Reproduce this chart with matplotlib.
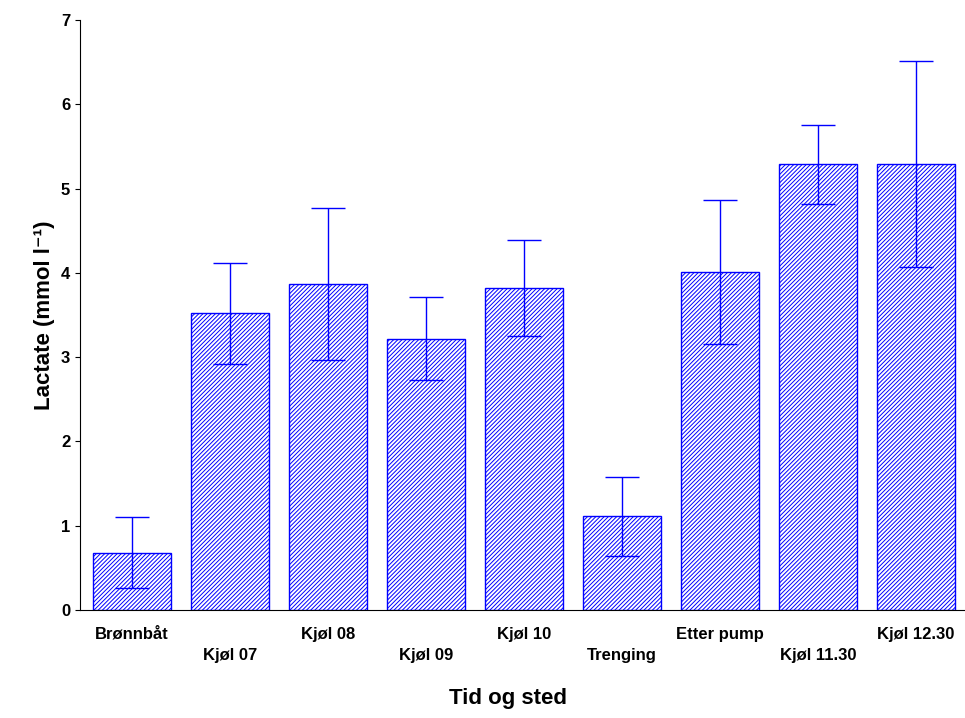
import matplotlib
matplotlib.use("Agg")
from matplotlib import pyplot as plt
import numpy as np

labels = ["Brønnbåt", "Kjøl 07", "Kjøl 08", "Kjøl 09", "Kjøl 10",
          "Trenging", "Etter pump", "Kjøl 11.30", "Kjøl 12.30"]
means = [0.68, 3.52, 3.87, 3.22, 3.82, 1.11, 4.01, 5.29, 5.29]
errs = [0.42, 0.60, 0.90, 0.49, 0.57, 0.47, 0.85, 0.47, 1.22]

plt.rcParams['font.family'] = ['Liberation Sans', 'DejaVu Sans']
plt.rcParams['hatch.color'] = 'blue'
plt.rcParams['hatch.linewidth'] = 0.7

fig = plt.figure(figsize=(9.65, 7.18), dpi=100)
ax = fig.add_axes([80/965, 108/718, 885/965, 590/718])
x = np.arange(len(labels))
ax.bar(x, means, width=0.8, color='white', edgecolor='blue', hatch='////////', linewidth=1)
ax.errorbar(x, means, yerr=errs, fmt='none', ecolor='blue', elinewidth=1, capsize=12, capthick=1)

ax.set_xlim(-0.53, 8.5)
ax.set_ylim(0, 7)
ax.spines['top'].set_visible(False)
ax.spines['right'].set_visible(False)
ax.tick_params(direction='out', labelsize=12)
for t in ax.get_yticklabels():
    t.set_fontweight('bold')
ax.set_xticks(x)
ax.set_xticklabels([])
ax.tick_params(axis='x', length=0)
for i, lab in enumerate(labels):
    yoff = -0.2 if i % 2 == 0 else -0.45
    ax.text(i, yoff, lab, ha='center', va='top', fontsize=12, fontweight='bold')
ax.set_ylabel('Lactate (mmol l⁻¹)', fontsize=16, fontweight='bold')
fig.text(80/965 + 885/965/2 - 0.015, 0.02, 'Tid og sted', ha='center', fontsize=16, fontweight='bold')
plt.savefig('out.png')
